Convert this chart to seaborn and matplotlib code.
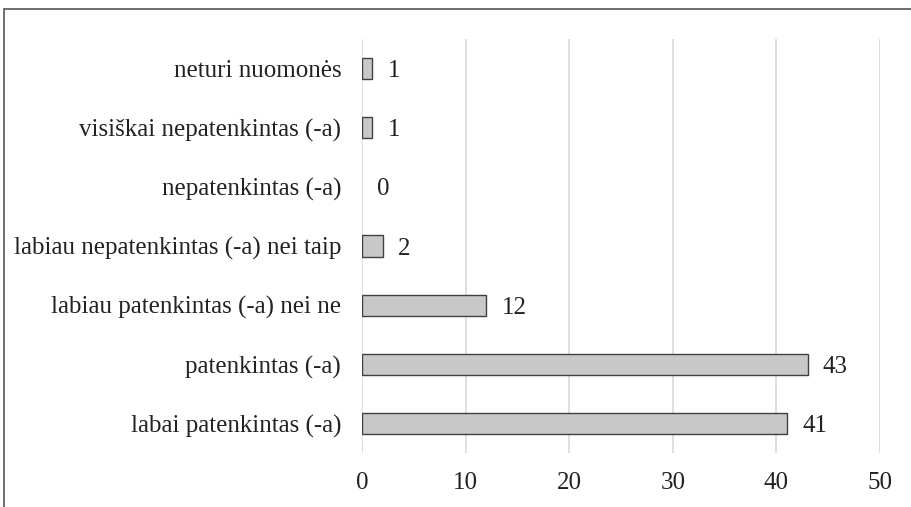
import matplotlib
matplotlib.use("Agg")
from matplotlib import pyplot as plt
from matplotlib.patches import Rectangle
import pandas as pd
import seaborn as sns

# answers, top to bottom as drawn
answers = [
    "neturi nuomonės",
    "visiškai nepatenkintas (-a)",
    "nepatenkintas (-a)",
    "labiau nepatenkintas (-a) nei taip",
    "labiau patenkintas (-a) nei ne",
    "patenkintas (-a)",
    "labai patenkintas (-a)",
]
counts = [1, 1, 0, 2, 12, 43, 41]
x_ticks = [0, 10, 20, 30, 40, 50]

df = pd.DataFrame({"answer": answers, "count": counts})

sns.set_style("white")
plt.rcParams["font.family"] = ["Liberation Serif", "DejaVu Serif"]

fig = plt.figure(figsize=(9.12, 5.07), dpi=100)
ax = fig.add_axes([0.397, 0.1065, 0.568, 0.8165])

sns.barplot(data=df, x="count", y="answer", orient="h", ax=ax,
            color="#c8c8c8", edgecolor="#404040", linewidth=1.0, width=0.36,
            saturation=1)

# a zero-length bar shows nothing in the source
for p in ax.patches:
    if p.get_width() == 0:
        p.set_linewidth(0)

for c in ax.containers:
    for t in ax.bar_label(c, padding=11, fontsize=18, color="#222222"):
        t.set_va("center_baseline")

ax.set_xlim(0, 50)
ax.set_xticks(x_ticks)
ax.xaxis.grid(True, color="#d9d9d9", linewidth=1.2)
ax.set_axisbelow(True)
for s in ax.spines.values():
    s.set_visible(False)
ax.set_xlabel("")
ax.set_ylabel("")
ax.tick_params(axis="both", length=0, labelsize=18, colors="#222222")
ax.tick_params(axis="y", pad=15)
ax.tick_params(axis="x", pad=14)
for lbl in ax.get_yticklabels():
    lbl.set_va("center_baseline")

# outer frame (top and left edges visible in the source crop)
fig.patches.append(Rectangle((4 / 912, -0.1), 1.2, 1.1 - 9 / 507,
                             transform=fig.transFigure, fill=False,
                             edgecolor="#555555", linewidth=1.2))

fig.savefig("out.png", dpi=100)
